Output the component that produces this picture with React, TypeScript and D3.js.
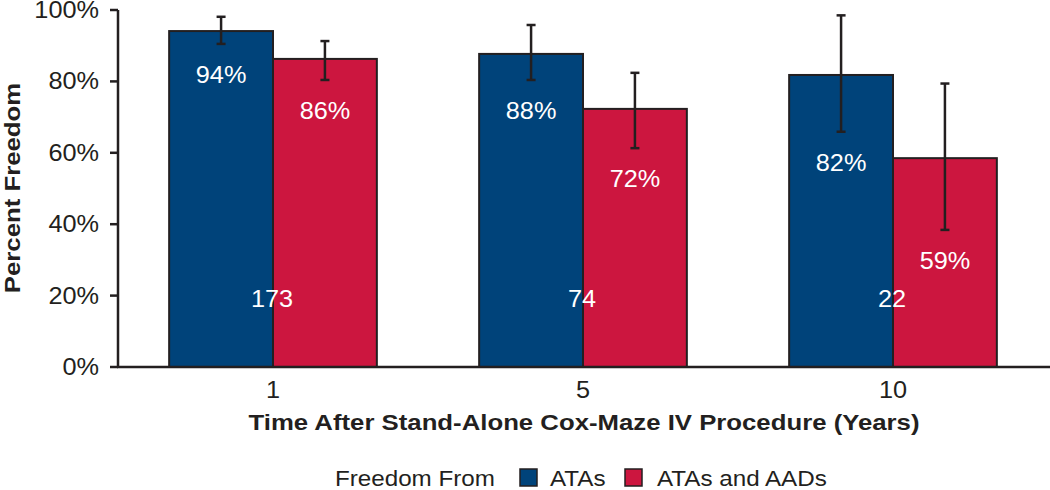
import React from "react";
import * as d3 from "d3";

const years = ["1", "5", "10"];
const seriesNames = ["ATAs", "ATAs and AADs"];
const ataValues = [94.1, 87.7, 81.8];
const ataLow = [90.5, 80.4, 65.9];
const ataHigh = [98.1, 95.8, 98.5];
const aadValues = [86.3, 72.3, 58.5];
const aadLow = [80.4, 61.3, 38.4];
const aadHigh = [91.3, 82.4, 79.4];
const valueLabels = [["94%", "88%", "82%"], ["86%", "72%", "59%"]];
const nLabels = ["173", "74", "22"];
const yTicks = [0, 20, 40, 60, 80, 100];
const colors = ["#00437a", "#cc163f"];

const W = 1050, H = 490;
const FONT = "'Liberation Sans', Arial, Helvetica, sans-serif";
const INK = "#231f20";

function T({ x, y, sx = 1.1, rot = 0, children, ...rest }: any) {
  return (
    <text transform={`translate(${x},${y}) rotate(${rot}) scale(${sx},1)`} {...rest}>
      {children}
    </text>
  );
}

export default function App() {
  const x = d3.scaleBand<string>().domain(years).range([118, 1048]).paddingInner(0.33).paddingOuter(0.165);
  const xs = d3.scaleBand<string>().domain(seriesNames).range([0, x.bandwidth()]);
  const y = d3.scaleLinear().domain([0, 100]).range([367, 10]);

  const series = [
    { name: seriesNames[0], v: ataValues, lo: ataLow, hi: ataHigh },
    { name: seriesNames[1], v: aadValues, lo: aadLow, hi: aadHigh },
  ];

  return (
    <svg width={W} height={H} style={{ position: "absolute", left: 0, top: 0 }} fontFamily={FONT}>
      <rect width={W} height={H} fill="#fff" />
      {series.map((s, si) =>
        years.map((yr, i) => {
          const bx = (x(yr) as number) + (xs(s.name) as number);
          return (
            <rect key={`b${si}${i}`} x={bx} y={y(s.v[i])} width={xs.bandwidth()} height={y(0) - y(s.v[i])}
              fill={colors[si]} stroke={INK} strokeWidth={2} />
          );
        })
      )}
      {series.map((s, si) =>
        years.map((yr, i) => {
          const cx = (x(yr) as number) + (xs(s.name) as number) + xs.bandwidth() / 2;
          return (
            <g key={`e${si}${i}`} stroke={INK} strokeWidth={2.5}>
              <line x1={cx} x2={cx} y1={y(s.hi[i])} y2={y(s.lo[i])} />
              <line x1={cx - 4.5} x2={cx + 4.5} y1={y(s.hi[i])} y2={y(s.hi[i])} />
              <line x1={cx - 4.5} x2={cx + 4.5} y1={y(s.lo[i])} y2={y(s.lo[i])} />
            </g>
          );
        })
      )}
      {series.map((s, si) =>
        years.map((yr, i) => {
          const cx = (x(yr) as number) + (xs(s.name) as number) + xs.bandwidth() / 2;
          return (
            <T key={`l${si}${i}`} x={cx} y={y(s.lo[i]) + 39} textAnchor="middle" fill="#fff" fontSize={23}>
              {valueLabels[si][i]}
            </T>
          );
        })
      )}
      {years.map((yr, i) => (
        <T key={`n${i}`} x={(x(yr) as number) + x.bandwidth() / 2 - 1} y={307} textAnchor="middle" fill="#fff" fontSize={23}>
          {nLabels[i]}
        </T>
      ))}
      <line x1={118} x2={118} y1={y(100)} y2={y(0)} stroke={INK} strokeWidth={2.5} />
      <line x1={117} x2={1050} y1={y(0)} y2={y(0)} stroke={INK} strokeWidth={2.5} />
      {yTicks.map((t) => (
        <g key={`t${t}`}>
          <line x1={110} x2={118} y1={y(t)} y2={y(t)} stroke={INK} strokeWidth={2.5} />
          <T x={99} y={y(t) + 8} textAnchor="end" fontSize={23} fill={INK}>{`${t}%`}</T>
        </g>
      ))}
      {years.map((yr) => (
        <T key={`x${yr}`} x={(x(yr) as number) + x.bandwidth() / 2} y={398} textAnchor="middle" fontSize={23} fill={INK}>
          {yr}
        </T>
      ))}
      <T x={584} y={430} sx={1.12} textAnchor="middle" fontSize={23} fontWeight="bold" fill={INK}>
        Time After Stand-Alone Cox-Maze IV Procedure (Years)
      </T>
      <T x={20} y={188} rot={-90} sx={1.12} textAnchor="middle" fontSize={23} fontWeight="bold" fill={INK}>
        Percent Freedom
      </T>
      <T x={335} y={486} fontSize={22} fill={INK}>Freedom From</T>
      <rect x={520} y={469} width={17} height={17} fill={colors[0]} stroke={INK} strokeWidth={1.5} />
      <T x={550} y={486} fontSize={22} fill={INK}>{seriesNames[0]}</T>
      <rect x={625} y={469} width={17} height={17} fill={colors[1]} stroke={INK} strokeWidth={1.5} />
      <T x={657} y={486} fontSize={22} fill={INK}>{seriesNames[1]}</T>
    </svg>
  );
}
